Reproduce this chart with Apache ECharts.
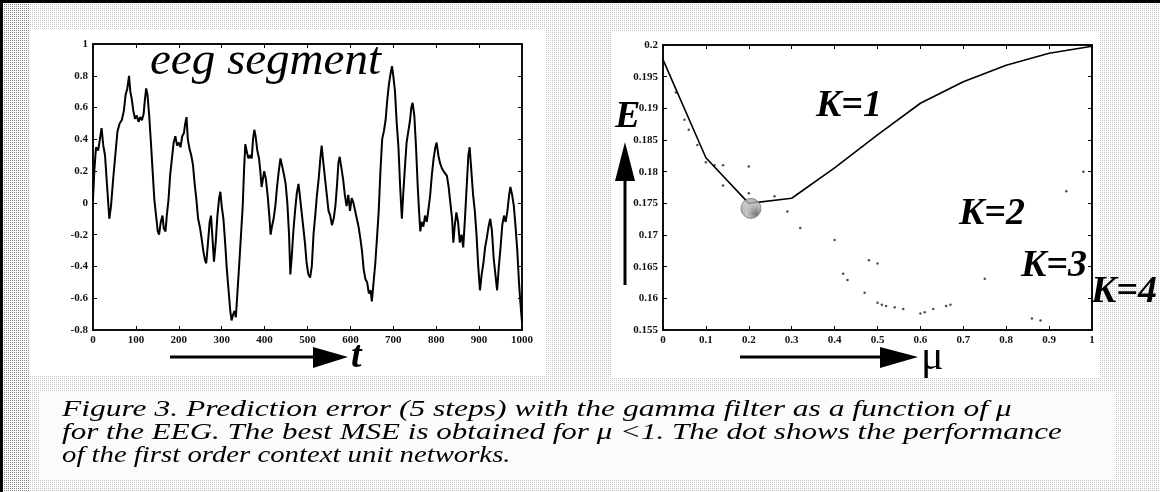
<!DOCTYPE html>
<html>
<head>
<meta charset="utf-8">
<script src="https://cdn.jsdelivr.net/npm/echarts@6/dist/echarts.min.js"></script>
<style>
  html, body { margin: 0; padding: 0; background: #fff; }
  #chart { width: 1160px; height: 492px; }
</style>
</head>
<body>
<div id="chart"></div>
<script>
// left panel: eeg segment
var eegT = [0, 3, 7, 12, 16, 20, 24, 28, 33, 38, 42, 47, 52, 57, 62, 67, 72, 76, 80, 84, 87, 90, 94, 98,
  102, 106, 110, 114, 118, 121, 124, 127, 131, 135, 139, 143, 147, 151, 154, 158, 162, 165, 169, 172, 176,
  180, 184, 188, 192, 196, 200, 204, 208, 212, 215, 218, 221, 225, 229, 233, 237, 241, 245, 249, 253, 257,
  261, 264, 268, 272, 275, 278, 282, 286, 290, 294, 297, 300, 304, 308, 312, 316, 320, 323, 327, 330, 333,
  337, 341, 345, 349, 352, 355, 358, 362, 366, 370, 373, 376, 379, 383, 387, 390, 393, 396, 399, 403, 407,
  411, 414, 417, 421, 425, 429, 433, 437, 441, 445, 449, 453, 457, 460, 463, 467, 471, 475, 479, 482, 486,
  490, 494, 498, 502, 506, 510, 514, 518, 522, 526, 530, 533, 537, 541, 545, 549, 553, 557, 561, 565, 569,
  572, 575, 579, 583, 587, 591, 595, 599, 603, 607, 611, 615, 619, 623, 627, 631, 635, 639, 643, 647, 650,
  654, 658, 662, 666, 670, 674, 678, 682, 686, 690, 694, 697, 700, 704, 708, 712, 716, 720, 723, 727, 731,
  735, 739, 742, 745, 749, 753, 757, 760, 763, 766, 770, 774, 778, 782, 786, 790, 794, 798, 801, 805, 809,
  813, 817, 821, 825, 829, 833, 837, 840, 843, 847, 851, 855, 859, 863, 867, 871, 875, 878, 882, 886, 890,
  894, 898, 902, 906, 910, 914, 918, 922, 926, 930, 934, 938, 942, 946, 950, 954, 958, 962, 966, 970, 973,
  977, 981, 985, 989, 993, 996, 1000]
var eegV = [0.02, 0.2, 0.35, 0.33, 0.4, 0.47, 0.36, 0.3, 0.1, -0.1, -0.02, 0.15, 0.3, 0.45, 0.5, 0.52, 0.58,
  0.68, 0.72, 0.8, 0.7, 0.66, 0.58, 0.53, 0.55, 0.51, 0.54, 0.52, 0.56, 0.65, 0.72, 0.68, 0.55, 0.38, 0.2,
  0.02, -0.08, -0.18, -0.2, -0.12, -0.08, -0.16, -0.18, -0.08, 0.02, 0.18, 0.28, 0.38, 0.42, 0.36, 0.38,
  0.35, 0.42, 0.44, 0.5, 0.54, 0.4, 0.34, 0.3, 0.24, 0.12, 0.02, -0.1, -0.15, -0.22, -0.3, -0.36, -0.38,
  -0.25, -0.12, -0.08, -0.2, -0.37, -0.25, -0.08, 0.03, 0.07, -0.02, -0.1, -0.25, -0.42, -0.55, -0.68,
  -0.74, -0.7, -0.68, -0.72, -0.55, -0.38, -0.2, -0.02, 0.2, 0.37, 0.33, 0.28, 0.3, 0.28, 0.4, 0.46, 0.42,
  0.33, 0.28, 0.2, 0.1, 0.15, 0.2, 0.15, 0.05, -0.08, -0.2, -0.15, -0.1, -0.02, 0.1, 0.2, 0.28, 0.23, 0.18,
  0.12, 0.0, -0.2, -0.45, -0.35, -0.18, -0.05, 0.06, 0.12, 0.05, -0.05, -0.15, -0.25, -0.38, -0.45, -0.47,
  -0.4, -0.2, -0.08, 0.05, 0.15, 0.28, 0.36, 0.25, 0.15, 0.05, -0.05, -0.08, -0.14, -0.1, -0.02, 0.12, 0.25,
  0.29, 0.22, 0.15, 0.05, -0.02, 0.05, -0.05, 0.03, 0.0, -0.05, -0.1, -0.15, -0.22, -0.3, -0.42, -0.48,
  -0.5, -0.57, -0.55, -0.62, -0.5, -0.38, -0.22, -0.05, 0.2, 0.4, 0.45, 0.52, 0.65, 0.75, 0.82, 0.86, 0.8,
  0.7, 0.5, 0.35, 0.1, -0.1, 0.05, 0.22, 0.38, 0.45, 0.52, 0.6, 0.63, 0.55, 0.35, 0.1, -0.05, -0.18, -0.12,
  -0.15, -0.08, -0.12, -0.04, 0.05, 0.18, 0.28, 0.35, 0.38, 0.3, 0.25, 0.22, 0.2, 0.21, 0.17, 0.1, 0.0,
  -0.1, -0.25, -0.15, -0.06, -0.12, -0.25, -0.2, -0.28, -0.1, 0.1, 0.3, 0.35, 0.2, 0.05, -0.05, -0.2, -0.4,
  -0.55, -0.45, -0.38, -0.28, -0.22, -0.15, -0.1, -0.18, -0.35, -0.45, -0.55, -0.4, -0.28, -0.14, -0.08,
  -0.12, -0.05, 0.05, 0.1, 0.05, -0.02, -0.15, -0.3, -0.5, -0.62, -0.75]

// right panel: prediction error E against mu
var muK1 = [0, 0.1, 0.2, 0.3, 0.4, 0.5, 0.6, 0.7, 0.8, 0.9, 1]
var errK1 = [0.1977, 0.1822, 0.175, 0.1758, 0.1806, 0.1858, 0.1908, 0.1942, 0.1968, 0.1987, 0.1998]
var muK2 = [0.03, 0.05, 0.08, 0.1, 0.14, 0.2, 0.26, 0.29, 0.32, 0.4, 0.48, 0.5, 0.75, 0.94, 0.98]
var errK2 = [0.1925, 0.1882, 0.1842, 0.1815, 0.1778, 0.1766, 0.1761, 0.1737, 0.1711, 0.1692, 0.166, 0.1655,
  0.1631, 0.1769, 0.18]
var muK3 = [0.06, 0.12, 0.14, 0.2, 0.42, 0.43, 0.47, 0.5, 0.51, 0.52, 0.54, 0.56, 0.6, 0.61, 0.63, 0.66, 0.67]
var errK3 = [0.1866, 0.181, 0.181, 0.1808, 0.1639, 0.1629, 0.1609, 0.1593, 0.159, 0.1588, 0.1586, 0.1583,
  0.1576, 0.1578, 0.1583, 0.1588, 0.159]
var muK4 = [0.86, 0.88]
var errK4 = [0.1568, 0.1565]
var contextMu = [0.205]
var contextErr = [0.1742]

var captionLines = [
  'Figure 3. Prediction error (5 steps) with the gamma filter as a function of \u03bc',
  'for the EEG. The best MSE is obtained for \u03bc <1. The dot shows the performance',
  'of the first order context unit networks.'
]
// the scanned caption is wider than it is tall, so each line gets stretched sideways
var captionStretch = [1.37, 1.35, 1.25]

function zip(a, b) {
  return a.map(function (x, i) { return [x, b[i]] })
}

var serif = '"Liberation Serif", "DejaVu Serif", serif'
var tickFont = { fontFamily: serif, fontWeight: 'bold', fontSize: 11, color: '#111' }

function axis(grid, pos, min, max, step, labels) {
  return {
    gridIndex: grid, type: 'value', position: pos, min: min, max: max, interval: step,
    axisLine: { show: true, onZero: false, lineStyle: { color: '#000', width: 1.5 } },
    axisTick: { show: true, inside: true, length: 4, lineStyle: { color: '#000' } },
    axisLabel: Object.assign({ show: labels, margin: 5 }, tickFont),
    splitLine: { show: false }
  }
}

// dither-like texture for the scanned look
function dither(base, dark) {
  var c = document.createElement('canvas')
  c.width = 4; c.height = 4
  var g = c.getContext('2d')
  g.fillStyle = base; g.fillRect(0, 0, 4, 4)
  g.fillStyle = dark
  g.fillRect(0, 0, 1, 1); g.fillRect(2, 2, 1, 1); g.fillRect(2, 0, 1, 1); g.fillRect(0, 2, 1, 1)
  return { image: c, repeat: 'repeat' }
}

var chart = echarts.init(document.getElementById('chart'))
var kFont = 'italic bold 38px ' + serif

var graphics = [
  { type: 'rect', shape: { x: 0, y: 0, width: 1160, height: 492 }, style: { fill: dither('#fff', '#c4c4c4') }, z: -10 },
  { type: 'rect', shape: { x: 30, y: 30, width: 515, height: 345 }, style: { fill: '#fff' }, z: -9 },
  { type: 'rect', shape: { x: 612, y: 32, width: 488, height: 345 }, style: { fill: '#fff' }, z: -9 },
  { type: 'rect', shape: { x: 40, y: 392, width: 1075, height: 88 }, style: { fill: '#fbfbfb' }, z: -9 },
  { type: 'rect', shape: { x: 0, y: 0, width: 30, height: 492 }, style: { fill: dither('#fff', '#888') }, z: -8 },
  { type: 'line', shape: { x1: 0, y1: 1.5, x2: 1160, y2: 1.5 }, style: { stroke: '#000', lineWidth: 3 } },
  { type: 'line', shape: { x1: 1.5, y1: 0, x2: 1.5, y2: 492 }, style: { stroke: '#000', lineWidth: 3 } },
  // t arrow
  { type: 'line', shape: { x1: 170, y1: 357, x2: 315, y2: 357 }, style: { stroke: '#000', lineWidth: 3 } },
  { type: 'polygon', shape: { points: [[313, 347], [348, 357], [313, 368]] }, style: { fill: '#000' } },
  { type: 'text', x: 351, y: 357, style: { text: 't', font: kFont, fill: '#000', verticalAlign: 'middle' } },
  // mu arrow
  { type: 'line', shape: { x1: 740, y1: 357, x2: 882, y2: 357 }, style: { stroke: '#000', lineWidth: 3 } },
  { type: 'polygon', shape: { points: [[880, 347], [918, 357], [880, 368]] }, style: { fill: '#000' } },
  { type: 'text', x: 921, y: 358, style: { text: '\u03bc', font: '42px ' + serif, fill: '#000', verticalAlign: 'middle' } },
  // E arrow
  { type: 'text', x: 615, y: 117, style: { text: 'E', font: kFont, fill: '#000', verticalAlign: 'middle' } },
  { type: 'polygon', shape: { points: [[615, 181], [625, 142], [635, 181]] }, style: { fill: '#000' } },
  { type: 'line', shape: { x1: 625, y1: 180, x2: 625, y2: 285 }, style: { stroke: '#000', lineWidth: 3 } },
  // curve labels
  { type: 'text', x: 816, y: 106, z: 10, style: { text: 'K=1', font: kFont, fill: '#000', verticalAlign: 'middle' } },
  { type: 'text', x: 959, y: 214, z: 10, style: { text: 'K=2', font: kFont, fill: '#000', verticalAlign: 'middle' } },
  { type: 'text', x: 1021, y: 266, z: 10, style: { text: 'K=3', font: kFont, fill: '#000', verticalAlign: 'middle' } },
  { type: 'text', x: 1091, y: 292, z: 10, style: { text: 'K=4', font: kFont, fill: '#000', verticalAlign: 'middle' } },
  { type: 'text', x: 150, y: 62, z: 10, style: { text: 'eeg segment', font: 'italic 47px ' + serif, fill: '#000', verticalAlign: 'middle' } }
]
captionLines.forEach(function (line, i) {
  graphics.push({
    type: 'text', x: 62, y: 410 + i * 23, z: 10, scaleX: captionStretch[i],
    style: { text: line, font: 'italic 23px ' + serif, fill: '#000', verticalAlign: 'middle' }
  })
})

chart.setOption({
  backgroundColor: '#fff',
  animation: false,
  grid: [
    { left: 93, top: 44, width: 429, height: 286, show: true, backgroundColor: '#fff', borderColor: '#000', borderWidth: 1.5 },
    { left: 663, top: 45, width: 429, height: 285, show: true, backgroundColor: '#fff', borderColor: '#000', borderWidth: 1.5 }
  ],
  xAxis: [
    (function () {
      var a = axis(0, 'bottom', 0, 1000, 100, true)
      a.axisLabel.formatter = function (v) { return String(v) }
      return a
    })(),
    axis(0, 'top', 0, 1000, 100, false),
    axis(1, 'bottom', 0, 1, 0.1, true),
    axis(1, 'top', 0, 1, 0.1, false)
  ],
  yAxis: [
    axis(0, 'left', -0.8, 1, 0.2, true),
    axis(0, 'right', -0.8, 1, 0.2, false),
    axis(1, 'left', 0.155, 0.2, 0.005, true),
    axis(1, 'right', 0.155, 0.2, 0.005, false)
  ],
  graphic: graphics,
  series: [
    {
      name: 'eeg', type: 'line', xAxisIndex: 0, yAxisIndex: 0, data: zip(eegT, eegV),
      showSymbol: false, lineStyle: { color: '#000', width: 2 }
    },
    {
      name: 'K=1', type: 'line', xAxisIndex: 2, yAxisIndex: 2, data: zip(muK1, errK1),
      showSymbol: false, lineStyle: { color: '#000', width: 1.6 }
    },
    {
      name: 'K=2', type: 'scatter', xAxisIndex: 2, yAxisIndex: 2, data: zip(muK2, errK2),
      symbolSize: 2.5, itemStyle: { color: '#222' }
    },
    {
      name: 'K=3', type: 'scatter', xAxisIndex: 2, yAxisIndex: 2, data: zip(muK3, errK3),
      symbolSize: 2.5, itemStyle: { color: '#222' }
    },
    {
      name: 'K=4', type: 'scatter', xAxisIndex: 2, yAxisIndex: 2, data: zip(muK4, errK4),
      symbolSize: 2.5, itemStyle: { color: '#222' }
    },
    {
      name: 'context unit', type: 'scatter', xAxisIndex: 2, yAxisIndex: 2, data: zip(contextMu, contextErr),
      symbolSize: 20, z: 3, itemStyle: { color: dither('#bbb', '#555'), borderColor: '#777', borderWidth: 1 }
    }
  ]
})
</script>
</body>
</html>
